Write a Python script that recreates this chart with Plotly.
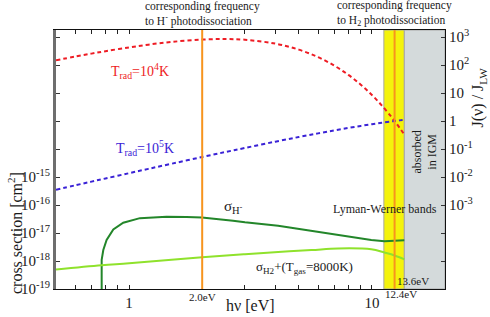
import math
import plotly.graph_objects as go

# ---- data ----
hv_rad = [0.5, 0.6, 0.7, 0.8, 1.0, 1.2, 1.5, 2.0, 2.5, 3.0, 4.0, 5.0, 6.0, 7.0,
          8.0, 9.0, 10.0, 11.0, 12.0, 12.4, 13.0, 13.6]
J_T1e4 = [148, 200, 255, 312, 425, 532, 669, 811, 846, 798, 580, 353, 191, 94.8,
          44.3, 19.8, 8.50, 3.54, 1.44, 1.0, 0.574, 0.328]
J_T1e5 = [0.00353, 0.00505, 0.00684, 0.00888, 0.0137, 0.0195, 0.0299, 0.0517,
          0.0783, 0.109, 0.183, 0.268, 0.362, 0.462, 0.564, 0.668, 0.770, 0.869,
          0.964, 1.0, 1.053, 1.103]

hv_Hm = [0.771, 0.771, 0.783, 0.808, 0.861, 0.946, 1.108, 1.426, 1.723, 1.995,
         2.68, 3.0, 4.11, 5.63, 7.72, 9.94, 11.27, 12.4, 13.6]
sig_Hm = [1e-20, 1.09e-18, 2.47e-18, 5.6e-18, 1.35e-17, 2.34e-17, 3.39e-17,
          3.80e-17, 3.72e-17, 3.55e-17, 2.75e-17, 2.40e-17, 1.82e-17, 1.17e-17,
          7.8e-18, 5.6e-18, 5.1e-18, 5.3e-18, 5.5e-18]

hv_H2p = [0.5, 0.771, 1.0, 2.0, 3.0, 4.11, 5.63, 7.25, 9.94, 11.27, 12.4, 13.6]
sig_H2p = [5.0e-19, 7.1e-19, 8.3e-19, 1.35e-18, 1.74e-18, 2.09e-18, 2.45e-18,
           2.82e-18, 2.63e-18, 2.0e-18, 1.58e-18, 1.15e-18]

x_tick_vals = [0.5, 0.6, 0.7, 0.8, 0.9, 1, 2, 3, 4, 5, 6, 7, 8, 9, 10, 20]
x_tick_text = ["", "", "", "", "", "1", "", "", "", "", "", "", "", "", "10", ""]
left_tickvals = [1e-10, 1e-11, 1e-12, 1e-13, 1e-14, 1e-15, 1e-16, 1e-17, 1e-18, 1e-19]
left_ticktext = ["", "", "", "", "", "10<sup>-15</sup>", "10<sup>-16</sup>",
                 "10<sup>-17</sup>", "10<sup>-18</sup>", "10<sup>-19</sup>"]
right_tickvals = [1e3, 1e2, 1e1, 1, 1e-1, 1e-2, 1e-3, 1e-4, 1e-5]
right_ticktext = ["10<sup>3</sup>", "10<sup>2</sup>", "10", "1", "10<sup>-1</sup>",
                  "10<sup>-2</sup>", "10<sup>-3</sup>", "", ""]

H_minus_edge = 2.0
H2_edge = 12.4
LW_low = 11.2
LW_high = 13.6
x_min, x_max = 0.5, 20

FONT = "Liberation Serif, Times New Roman, Times, serif"
RED = "#ee1c24"
BLUE = "#3a22d6"
DKGREEN = "#23862a"
LTGREEN = "#8fe22c"
ORANGE = "#f7941e"

fig = go.Figure()

fig.add_shape(type="rect", xref="x", yref="paper", x0=LW_low, x1=LW_high, y0=0, y1=1,
              fillcolor="#f4f30c", line=dict(color="#a8a8a0", width=1), layer="below")
fig.add_shape(type="rect", xref="x", yref="paper", x0=LW_high, x1=x_max, y0=0, y1=1,
              fillcolor="#d4dadb", line=dict(color="#a8a8a8", width=1), layer="below")
for xv in (H_minus_edge, H2_edge):
    fig.add_shape(type="line", xref="x", yref="paper", x0=xv, x1=xv, y0=0, y1=1,
                  line=dict(color=ORANGE, width=2))

fig.add_trace(go.Scatter(x=hv_Hm, y=sig_Hm, mode="lines",
                         line=dict(color=DKGREEN, width=2), yaxis="y"))
fig.add_trace(go.Scatter(x=hv_H2p, y=sig_H2p, mode="lines", line_shape="spline",
                         line=dict(color=LTGREEN, width=2), yaxis="y"))
fig.add_trace(go.Scatter(x=hv_rad, y=J_T1e4, mode="lines", line_shape="spline",
                         line=dict(color=RED, width=2, dash="4px,3px"), yaxis="y2"))
fig.add_trace(go.Scatter(x=hv_rad, y=J_T1e5, mode="lines", line_shape="spline",
                         line=dict(color=BLUE, width=2, dash="4px,3px"), yaxis="y2"))

L, R, T, B = 56, 44.5, 30, 28
W, H = 490, 317
pw, ph = W - L - R, H - T - B


def px(x):
    return (x - L) / pw


def py(y):
    return (H - B - y) / ph


def ann(text, x, y, size, color="#1a1a1a", angle=0, align="center"):
    fig.add_annotation(text=text, x=px(x), y=py(y), xref="paper", yref="paper",
                       showarrow=False, textangle=angle, align=align,
                       xanchor="center", yanchor="middle",
                       font=dict(family=FONT, size=size, color=color))


ann("corresponding frequency<br>to H<sup>-</sup> photodissociation", 203, 14, 11.5, align="left")
ann("corresponding frequency<br>to H<sub>2</sub> photodissociation", 395, 14, 11.5, align="left")
ann("T<sub>rad</sub>=10<sup>4</sup>K", 140, 71, 14, color=RED)
ann("T<sub>rad</sub>=10<sup>5</sup>K", 145, 148, 14, color=BLUE)
ann("σ<sub>H<sup>-</sup></sub>", 234, 207, 15)
ann("σ<sub>H2</sub>+(T<sub>gas</sub>=8000K)", 305, 267, 13)
ann("Lyman-Werner bands", 385, 209, 12)
ann("absorbed<br>in IGM", 425, 152, 12, angle=-90)
ann("13.6eV", 413, 281, 11)
ann("12.4eV", 401, 294, 11)
ann("2.0eV", 203, 297, 11)
ann("hν [eV]", 251, 305, 16)
ann("cross section [cm<sup>2</sup>]", 15, 233, 16, angle=-90)
ann("J(ν) / J<sub>LW</sub>", 479, 97, 16, angle=-90)

fig.update_layout(
    width=W, height=H,
    margin=dict(l=L, r=R, t=T, b=B, pad=0, autoexpand=False),
    paper_bgcolor="white", plot_bgcolor="white",
    showlegend=False,
    font=dict(family=FONT, size=15, color="#1a1a1a"),
    xaxis=dict(type="log", range=[math.log10(x_min), math.log10(x_max)],
               tickvals=x_tick_vals, ticktext=x_tick_text, automargin=False,
               ticks="inside", ticklen=4, tickcolor="#222", showgrid=False,
               showline=True, linecolor="#111", linewidth=1, mirror="ticks",
               zeroline=False, tickfont=dict(family=FONT, size=15)),
    yaxis=dict(type="log", range=[-19, -9.75], tickvals=left_tickvals,
               ticktext=left_ticktext, ticks="inside", ticklen=4, tickcolor="#333",
               automargin=False,
               showgrid=False, showline=True, linecolor="#6e6e6e", linewidth=3,
               zeroline=False, tickfont=dict(family=FONT, size=15)),
    yaxis2=dict(type="log", range=[-6, 3.25], overlaying="y", side="right",
                tickvals=right_tickvals, ticktext=right_ticktext, ticks="inside",
                automargin=False,
                ticklen=4, tickcolor="#333", showgrid=False, showline=True,
                linecolor="#111", linewidth=1, zeroline=False,
                tickfont=dict(family=FONT, size=15)),
)

fig.write_html("out.html", config={"displayModeBar": False},
               post_script="document.body.style.margin='0';document.body.style.padding='0';")
